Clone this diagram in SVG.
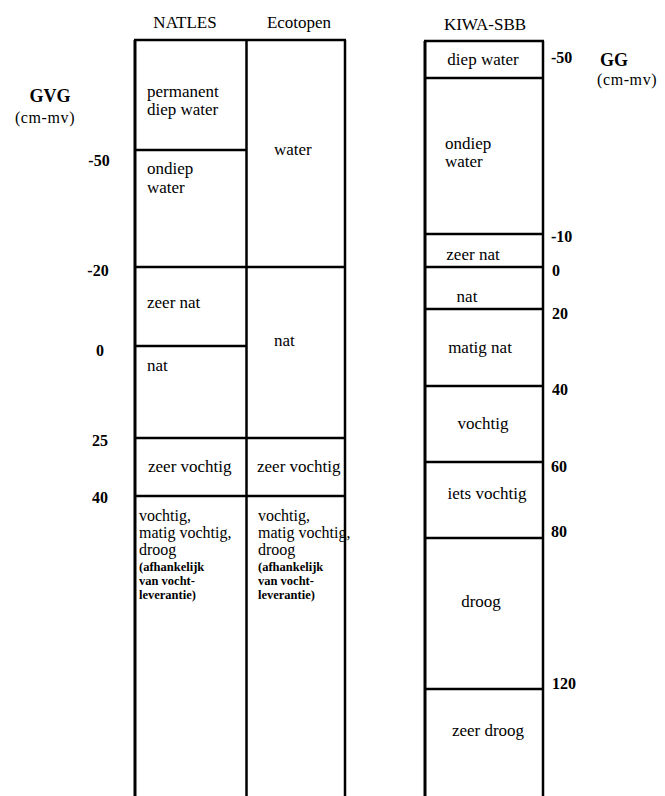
<svg xmlns="http://www.w3.org/2000/svg" width="665" height="796" viewBox="0 0 665 796">
<style>
text{font-family:"Liberation Serif","Times New Roman",serif;fill:#000}
.h{font-size:17px}
.l{font-size:17px}
.k{font-size:16px}
.s{font-size:12.5px;font-weight:bold}
.n{font-size:16px;font-weight:bold}
.b{font-size:18px;font-weight:bold}
.u{font-size:16px;letter-spacing:0.6px}
.m{text-anchor:middle}
line{stroke:#000;stroke-width:2.5}
.t{stroke-width:3}
</style>
<rect width="665" height="796" fill="#fff"/>
<g id="axis-left">
<text class="b m" x="50" y="102">GVG</text>
<text class="u m" x="45" y="123">(cm-mv)</text>
<text class="n m" x="99" y="166">-50</text>
<text class="n m" x="98" y="276">-20</text>
<text class="n m" x="100" y="356">0</text>
<text class="n m" x="100" y="446">25</text>
<text class="n m" x="100" y="503">40</text>
</g>
<g id="axis-right">
<text class="n" x="551" y="63">-50</text>
<text class="b" x="600" y="66">GG</text>
<text class="u" x="597" y="85">(cm-mv)</text>
<text class="n" x="551" y="242">-10</text>
<text class="n" x="552" y="276">0</text>
<text class="n" x="552" y="319">20</text>
<text class="n" x="552" y="395">40</text>
<text class="n" x="551" y="472">60</text>
<text class="n" x="551" y="537">80</text>
<text class="n" x="552" y="689">120</text>
</g>
<g id="connectors">
<line class="t" x1="135" y1="40" x2="135" y2="796"/>
<line x1="246.5" y1="40" x2="246.5" y2="796"/>
<line x1="345" y1="40" x2="345" y2="796"/>
<line x1="134" y1="40" x2="346" y2="40"/>
<line x1="135" y1="150" x2="246.5" y2="150"/>
<line x1="135" y1="267" x2="345" y2="267"/>
<line x1="135" y1="346" x2="246.5" y2="346"/>
<line x1="135" y1="438" x2="345" y2="438"/>
<line x1="135" y1="496" x2="345" y2="496"/>
<line class="t" x1="425" y1="41" x2="425" y2="796"/>
<line x1="543" y1="41" x2="543" y2="796"/>
<line x1="424" y1="41" x2="544" y2="41"/>
<line x1="425" y1="78" x2="543" y2="78"/>
<line x1="425" y1="234" x2="543" y2="234"/>
<line x1="425" y1="267" x2="543" y2="267"/>
<line x1="425" y1="309" x2="543" y2="309"/>
<line x1="425" y1="386" x2="543" y2="386"/>
<line x1="425" y1="462" x2="543" y2="462"/>
<line x1="425" y1="538" x2="543" y2="538"/>
<line x1="425" y1="689" x2="543" y2="689"/>
</g>
<g id="natles">
<text class="h m" x="185" y="28">NATLES</text>
<g id="natles-permanent"><text class="l" x="147" y="97">permanent</text><text class="l" x="147" y="115">diep water</text></g>
<g id="natles-ondiep"><text class="l" x="147" y="174">ondiep</text><text class="l" x="147" y="193">water</text></g>
<g id="natles-zeernat"><text class="l" x="147" y="308">zeer nat</text></g>
<g id="natles-nat"><text class="l" x="147" y="371">nat</text></g>
<g id="natles-zeervochtig"><text class="l" x="148" y="472">zeer vochtig</text></g>
<g id="natles-vochtig">
<text class="k" x="139" y="521">vochtig,</text>
<text class="k" x="139" y="538">matig vochtig,</text>
<text class="k" x="139" y="555">droog</text>
<text class="s" x="139" y="571">(afhankelijk</text>
<text class="s" x="139" y="585">van vocht-</text>
<text class="s" x="139" y="599">leverantie)</text>
</g>
</g>
<g id="ecotopen">
<text class="h m" x="299" y="28">Ecotopen</text>
<g id="eco-water"><text class="l" x="274" y="155">water</text></g>
<g id="eco-nat"><text class="l" x="274" y="346">nat</text></g>
<g id="eco-zeervochtig"><text class="l" x="257" y="472">zeer vochtig</text></g>
<g id="eco-vochtig">
<text class="k" x="258" y="521">vochtig,</text>
<text class="k" x="258" y="538">matig vochtig,</text>
<text class="k" x="258" y="555">droog</text>
<text class="s" x="258" y="571">(afhankelijk</text>
<text class="s" x="258" y="585">van vocht-</text>
<text class="s" x="258" y="599">leverantie)</text>
</g>
</g>
<g id="kiwa">
<text class="h m" x="485" y="30">KIWA-SBB</text>
<g id="kiwa-diepwater"><text class="l m" x="483" y="65">diep water</text></g>
<g id="kiwa-ondiep"><text class="l" x="445" y="149">ondiep</text><text class="l" x="445" y="167">water</text></g>
<g id="kiwa-zeernat"><text class="l m" x="473" y="260">zeer nat</text></g>
<g id="kiwa-nat"><text class="l m" x="467" y="302">nat</text></g>
<g id="kiwa-matignat"><text class="l m" x="480" y="353">matig nat</text></g>
<g id="kiwa-vochtig"><text class="l m" x="483" y="429">vochtig</text></g>
<g id="kiwa-ietsvochtig"><text class="l m" x="487" y="499">iets vochtig</text></g>
<g id="kiwa-droog"><text class="l m" x="481" y="607">droog</text></g>
<g id="kiwa-zeerdroog"><text class="l m" x="488" y="736">zeer droog</text></g>
</g>
</svg>
